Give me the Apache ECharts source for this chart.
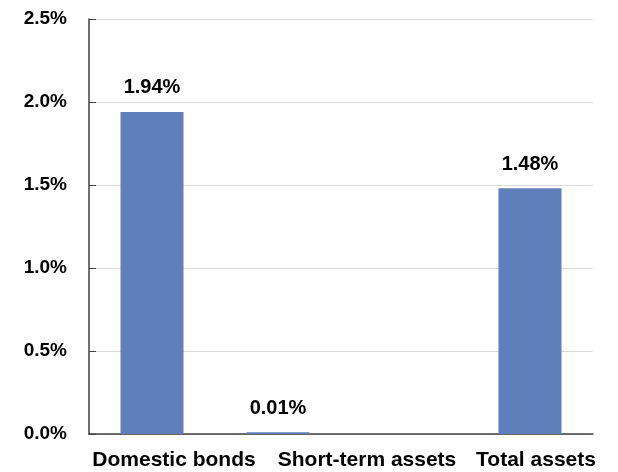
<!DOCTYPE html>
<html>
<head>
<meta charset="utf-8">
<script src="https://cdn.jsdelivr.net/npm/echarts@6.0.0/dist/echarts.min.js"></script>
<style>
  html, body { margin: 0; padding: 0; background: #fff; }
  #chart { width: 618px; height: 472px; }
</style>
</head>
<body>
<div id="chart"></div>
<script>
// slots on the value axis; the third slot is left empty in the source chart
const slots = ['Domestic bonds', 'Short-term assets', '', 'Total assets'];
const returns = [1.94, 0.01, null, 1.48];
const yTicks = [0, 0.5, 1.0, 1.5, 2.0, 2.5];

// labels are nudged right in the original so they don't collide
const labelShift = [44, 178, 0, 12];

const chart = echarts.init(document.getElementById('chart'));
const font = '"Liberation Sans", Arial, sans-serif';

chart.setOption({
    animation: false,
    grid: { left: 89, right: 25, top: 19, bottom: 38 },
    xAxis: {
        type: 'category',
        data: slots.map((s, i) => ({
            value: s,
            textStyle: { padding: [0, 0, 0, labelShift[i]] }
        })),
        axisLine: { lineStyle: { color: '#404040', width: 1.5 } },
        axisTick: { show: false },
        axisLabel: {
            interval: 0,
            margin: 16,
            color: '#000',
            fontFamily: font,
            fontWeight: 'bold',
            fontSize: 21
        }
    },
    yAxis: {
        type: 'value',
        min: yTicks[0],
        max: yTicks[yTicks.length - 1],
        interval: 0.5,
        axisLine: { show: true, lineStyle: { color: '#404040', width: 1.5 } },
        axisTick: { show: true, inside: true, length: 7, lineStyle: { color: '#404040' } },
        splitLine: { lineStyle: { color: '#d9d9d9', width: 1 } },
        axisLabel: {
            margin: 22,
            color: '#000',
            fontFamily: font,
            fontWeight: 'bold',
            fontSize: 19,
            formatter: v => v.toFixed(1) + '%'
        }
    },
    series: [{
        type: 'bar',
        data: returns,
        barWidth: '50%',
        itemStyle: { color: '#5f7fba' },
        label: {
            show: true,
            position: 'top',
            distance: 14,
            color: '#000',
            fontFamily: font,
            fontWeight: 'bold',
            fontSize: 20,
            formatter: p => p.value.toFixed(2) + '%'
        }
    }]
});
</script>
</body>
</html>
